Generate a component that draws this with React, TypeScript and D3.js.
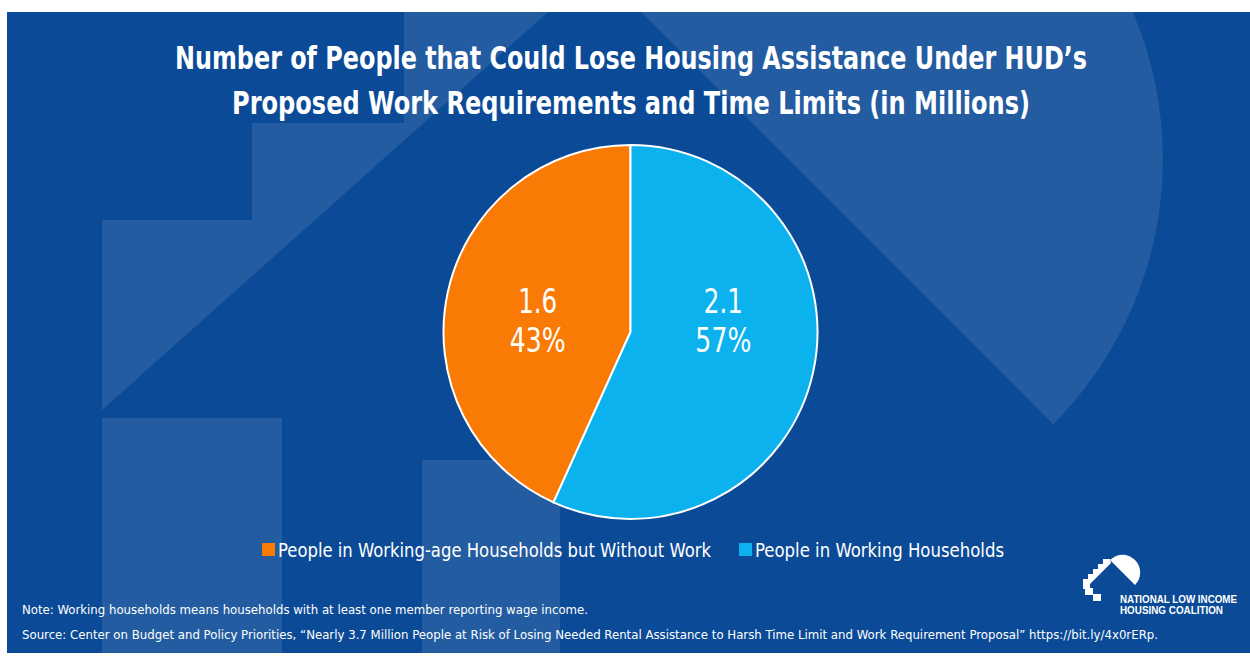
import React from "react";
import * as d3 from "d3";

const categories = [
  "People in Working-age Households but Without Work",
  "People in Working Households",
];
const values = [1.6, 2.1];
const sliceColors = ["#f97b06", "#0bb2ee"];
const titleLines = [
  "Number of People that Could Lose Housing Assistance Under HUD\u2019s",
  "Proposed Work Requirements and Time Limits (in Millions)",
];
const noteText =
  "Note: Working households means households with at least one member reporting wage income.";
const sourceText =
  "Source: Center on Budget and Policy Priorities, \u201CNearly 3.7 Million People at Risk of Losing Needed Rental Assistance to Harsh Time Limit and Work Requirement Proposal\u201D https://bit.ly/4x0rERp.";
const logoLines = ["NATIONAL LOW INCOME", "HOUSING COALITION"];

const W = 1250;
const H = 658;
const FONT = "'Liberation Sans Narrow', 'DejaVu Sans Condensed', 'Roboto Condensed', Roboto, sans-serif";

export default function App() {
  const total = d3.sum(values);
  const start = (-2 * Math.PI * values[0]) / total;
  const pie = d3
    .pie<number>()
    .sort(null)
    .startAngle(start)
    .endAngle(start + 2 * Math.PI)(values);
  const cx = 630.5;
  const cy = 332;
  const R = 187;
  const arc = d3.arc<d3.PieArcDatum<number>>().innerRadius(0).outerRadius(R);
  const labelArc = d3.arc<d3.PieArcDatum<number>>().innerRadius(95).outerRadius(95);
  const fmt = d3.format(".1f");

  // background decoration (large faded logo)
  const band = "M102,410 L102,220 L252,220 L252,123 L404,123 L404,12 L548,12 Z";
  const sc = { x: 788, y: 159, r: 375 };
  const ex1 = sc.x - sc.r / Math.SQRT2, ey1 = sc.y - sc.r / Math.SQRT2;
  const ex2 = sc.x + sc.r / Math.SQRT2, ey2 = sc.y + sc.r / Math.SQRT2;
  const semi = `M${ex1},${ey1} A${sc.r},${sc.r} 0 0 1 ${ex2},${ey2} Z`;

  // small logo
  const lg = { x: 1122.5, y: 572.5, r: 17.7 };
  const lx1 = lg.x - lg.r / Math.SQRT2, ly1 = lg.y - lg.r / Math.SQRT2;
  const lx2 = lg.x + lg.r / Math.SQRT2, ly2 = lg.y + lg.r / Math.SQRT2;
  const logoSemi = `M${lx1},${ly1} A${lg.r},${lg.r} 0 0 1 ${lx2},${ly2} Z`;
  const logoStairs =
    "M1083,589 L1083,579 L1088,579 L1088,574 L1093,574 L1093,569 L1098,569 L1098,564 L1103,564 L1103,559 L1110,559 L1111,563 L1090,584 L1090,589 Z";

  return (
    <div style={{ position: "fixed", left: 0, top: 0 }}>
      <svg width={W} height={H} style={{ display: "block" }}>
        <defs>
          <clipPath id="panel">
            <rect x={7} y={12} width={W - 7} height={641} />
          </clipPath>
        </defs>
        <rect x={0} y={0} width={W} height={H} fill="#ffffff" />
        <rect x={7} y={12} width={W - 7} height={641} fill="#0b4a97" />
        <g clipPath="url(#panel)" fill="#ffffff" fillOpacity={0.1}>
          <path d={band} />
          <path d={semi} />
          <rect x={102} y={418} width={180} height={240} />
          <rect x={422} y={460} width={138} height={200} />
        </g>

        {titleLines.map((t, i) => (
          <text
            key={i}
            x={631}
            y={69 + i * 45}
            textAnchor="middle"
            fill="#ffffff"
            fontFamily={FONT}
            fontWeight="bold"
            fontSize={32}
            textLength={i === 0 ? 912 : 798}
            lengthAdjust="spacingAndGlyphs"
          >
            {t}
          </text>
        ))}

        <g transform={`translate(${cx},${cy})`}>
          {pie.map((p, i) => (
            <path key={i} d={arc(p) || ""} fill={sliceColors[i]} stroke="#ffffff" strokeWidth={2} />
          ))}
          {pie.map((p, i) => {
            const [lx] = labelArc.centroid(p);
            const pct = Math.round((p.data / total) * 100) + "%";
            return (
              <g key={"l" + i} fill="#ffffff" fontFamily={FONT} fontSize={33} textAnchor="middle">
                <text x={lx} y={-19} textLength={39} lengthAdjust="spacingAndGlyphs">
                  {fmt(p.data)}
                </text>
                <text x={lx} y={20} textLength={56} lengthAdjust="spacingAndGlyphs">
                  {pct}
                </text>
              </g>
            );
          })}
        </g>

        {categories.map((c, i) => {
          const sx = i === 0 ? 262 : 739;
          const len = i === 0 ? 433 : 249;
          return (
            <g key={c}>
              <rect x={sx} y={543} width={13} height={13} fill={sliceColors[i]} />
              <text
                x={sx + 16}
                y={557}
                fill="#ffffff"
                fontFamily={FONT}
                fontSize={19}
                textLength={len}
                lengthAdjust="spacingAndGlyphs"
              >
                {c}
              </text>
            </g>
          );
        })}

        <text x={22} y={614} fill="#ffffff" fontFamily={FONT} fontSize={13} textLength={566} lengthAdjust="spacingAndGlyphs">
          {noteText}
        </text>
        <text x={22} y={639} fill="#ffffff" fontFamily={FONT} fontSize={13} textLength={1136} lengthAdjust="spacingAndGlyphs">
          {sourceText}
        </text>

        <g fill="#ffffff">
          <path d={logoStairs} />
          <path d={logoSemi} />
          <rect x={1085} y={588} width={8} height={7} />
          <rect x={1093} y={594} width={8} height={7} />
          {logoLines.map((t, i) => (
            <text
              key={t}
              x={1120}
              y={603 + i * 11}
              fontFamily="'Liberation Sans', Arial, sans-serif"
              fontWeight="bold"
              fontSize={10.5}
              textLength={i === 0 ? 117 : 103}
              lengthAdjust="spacingAndGlyphs"
            >
              {t}
            </text>
          ))}
        </g>
      </svg>
    </div>
  );
}
